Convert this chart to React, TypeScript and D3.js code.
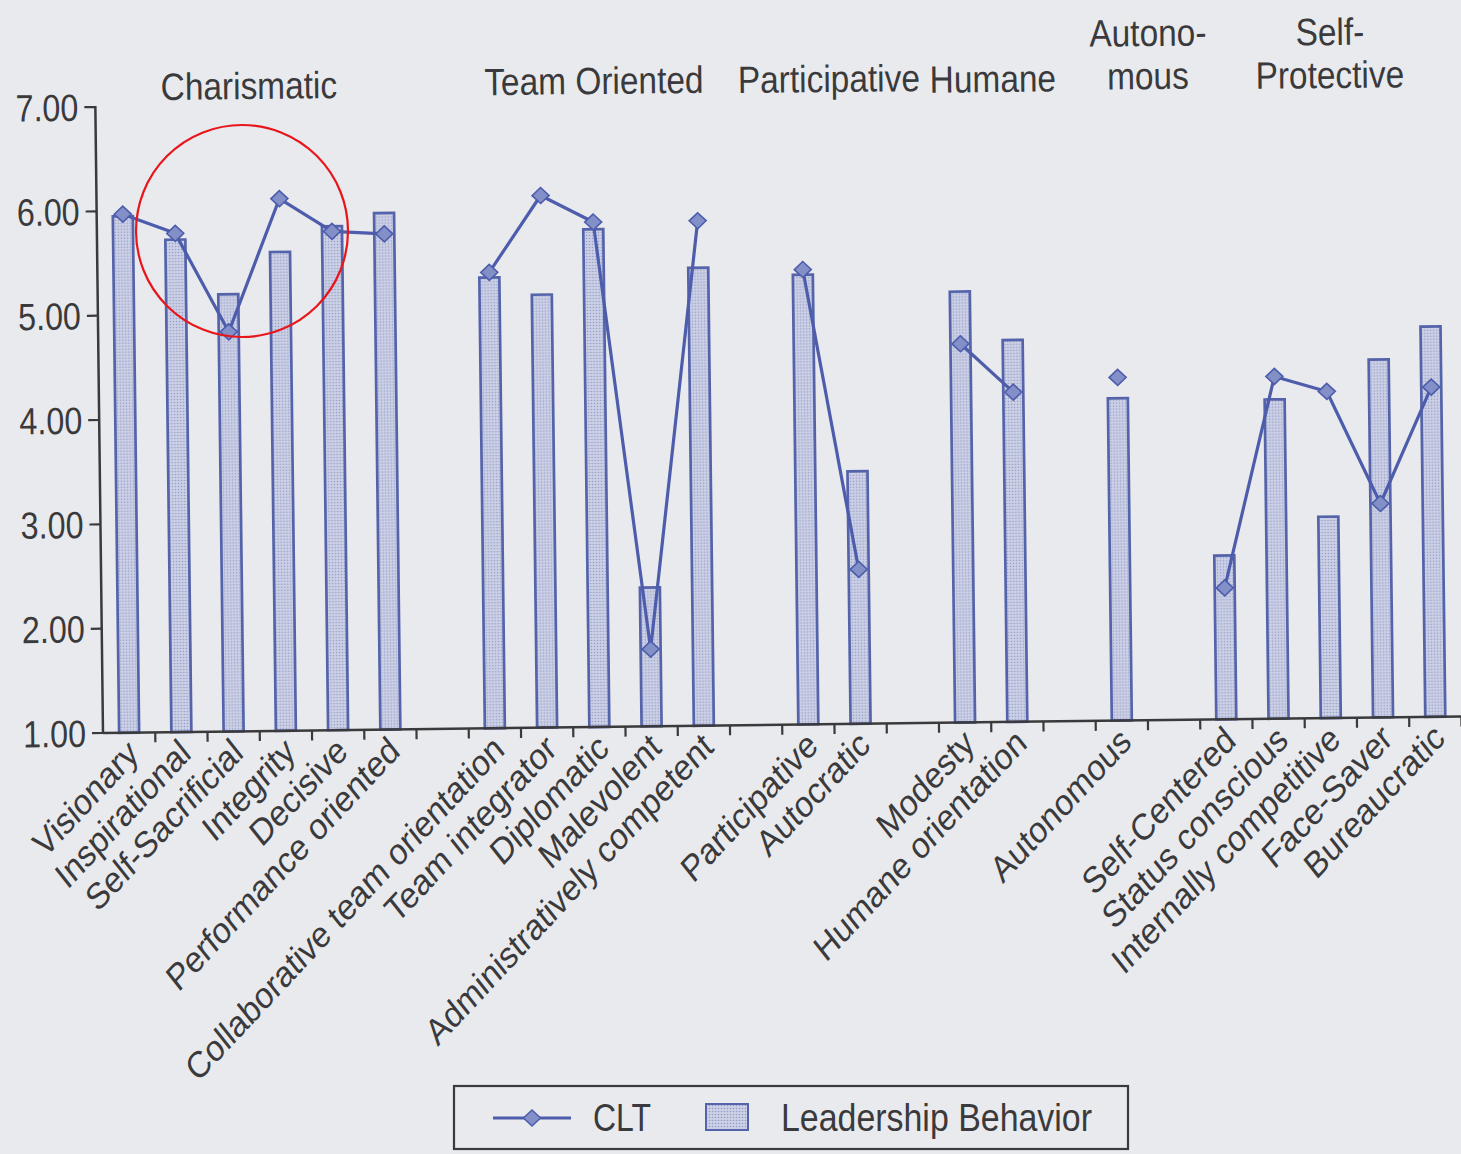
import React from "react";
import * as d3 from "d3";

// ---------- data ----------
const categories = [
  "Visionary", "Inspirational", "Self-Sacrificial", "Integrity", "Decisive", "Performance oriented",
  "Collaborative team orientation", "Team integrator", "Diplomatic", "Malevolent", "Administratively competent",
  "Participative", "Autocratic",
  "Modesty", "Humane orientation",
  "Autonomous",
  "Self-Centered", "Status conscious", "Internally competitive", "Face-Saver", "Bureaucratic",
];
const groupOf = [0, 0, 0, 0, 0, 0, 1, 1, 1, 1, 1, 2, 2, 3, 3, 4, 5, 5, 5, 5, 5];
const groupNames = [["Charismatic"], ["Team Oriented"], ["Participative"], ["Humane"], ["Autono-", "mous"], ["Self-", "Protective"]];
const behavior = [5.95, 5.72, 5.19, 5.59, 5.83, 5.95, 5.32, 5.15, 5.77, 2.33, 5.39, 5.31, 3.42, 5.13, 4.66, 4.09, 2.57, 4.06, 2.93, 4.43, 4.74];
const clt = [5.97, 5.78, 4.83, 6.1, 5.78, 5.75, 5.37, 6.1, 5.84, 1.74, 5.84, 5.36, 2.48, 4.63, 4.16, 4.29, 2.26, 4.28, 4.13, 3.05, 4.16];
const yTicks = [1, 2, 3, 4, 5, 6, 7];
const seriesNames = ["CLT", "Leadership Behavior"];

// ---------- layout / style ----------
const W = 1461, H = 1154;
const X0 = 103, BASE = 733, TOP = 107, SLOT = 52.25, NSLOTS = 26;
const TILT = -0.7;
const headerPos = [
  { x: 249, y: [99] },
  { x: 594, y: [94] },
  { x: 829, y: [92] },
  { x: 993, y: [92] },
  { x: 1148, y: [46, 89] },
  { x: 1330, y: [45, 88] },
];
const INK = "#3a3a3c";
const BAR_STROKE = "#5564aa";
const LINE = "#4d5dac";
const DIAMOND = "#8390c8";
const BG = "#e9eaee";
const FONT = "'Liberation Sans', Arial, Helvetica, sans-serif";

export default function App() {
  const slots = categories.map((_, i) => i + groupOf[i]);
  const x = d3.scaleBand<number>().domain(d3.range(NSLOTS)).range([X0, X0 + NSLOTS * SLOT]).paddingInner(0).paddingOuter(0);
  const y = d3.scaleLinear().domain([1, 7]).range([BASE, TOP]);
  const cx = (i: number) => (x(slots[i]) as number) + x.bandwidth() / 2;
  const line = d3.line<number>().x((i) => cx(i)).y((i) => y(clt[i]));
  const groups = d3.range(groupNames.length).map((g) => categories.map((_, i) => i).filter((i) => groupOf[i] === g));
  const diamond = "M0,-8L8.5,0L0,8L-8.5,0Z";
  const barW = 20;

  return (
    <svg width={W} height={H} style={{ position: "absolute", left: 0, top: 0, display: "block" }} fontFamily={FONT}>
      <defs>
        <pattern id="dots" width="3" height="3" patternUnits="userSpaceOnUse">
          <rect width="3" height="3" fill="#cdd1e6" />
          <circle cx="1.5" cy="1.5" r="0.8" fill="#939cc8" />
        </pattern>
      </defs>
      <rect width={W} height={H} fill={BG} />

      {/* group headers */}
      {groupNames.map((lines, g) =>
        lines.map((t, k) => (
          <text key={`h${g}-${k}`} transform={`translate(${headerPos[g].x},${headerPos[g].y[k]}) rotate(-0.6) scale(0.88,1)`}
            textAnchor="middle" fontSize={38} fill={INK}>{t}</text>
        ))
      )}

      <g transform={`rotate(${TILT},${X0},${BASE})`}>
        {/* bars */}
        {behavior.map((v, i) => (
          <rect key={`b${i}`} x={cx(i) - barW / 2} y={y(v)} width={barW} height={BASE - y(v)}
            fill="url(#dots)" stroke={BAR_STROKE} strokeWidth={2.7} />
        ))}
        {/* CLT lines */}
        {groups.map((idx, g) => idx.length > 1 ? (
          <path key={`l${g}`} d={line(idx) as string} fill="none" stroke={LINE} strokeWidth={3.2} strokeLinejoin="round" />
        ) : null)}
        {clt.map((v, i) => (
          <path key={`d${i}`} d={diamond} transform={`translate(${cx(i)},${y(v)})`} fill={DIAMOND} stroke={LINE} strokeWidth={1.6} />
        ))}

        {/* y axis */}
        <line x1={X0} x2={X0} y1={TOP - 1} y2={BASE} stroke={INK} strokeWidth={2.5} />
        {yTicks.map((t) => (
          <g key={`yt${t}`}>
            <line x1={X0 - 11} x2={X0} y1={y(t)} y2={y(t)} stroke={INK} strokeWidth={2.2} />
            <text transform={`translate(${X0 - 17},${y(t) + 13.5}) scale(0.85,1)`} textAnchor="end" fontSize={38} fill={INK}>
              {t.toFixed(2)}
            </text>
          </g>
        ))}

        {/* x axis */}
        <line x1={X0} x2={X0 + NSLOTS * SLOT + 4} y1={BASE} y2={BASE} stroke={INK} strokeWidth={2.5} />
        {d3.range(1, NSLOTS + 1).map((k) => (
          <line key={`xt${k}`} x1={X0 + k * SLOT} x2={X0 + k * SLOT} y1={BASE} y2={BASE + 10} stroke={INK} strokeWidth={2.2} />
        ))}
        {categories.map((c, i) => (
          <text key={`xl${i}`} transform={`translate(${cx(i) + 11},${BASE + 24}) scale(0.86,1) rotate(-42)`}
            textAnchor="end" fontSize={36.8} fill={INK}>{c}</text>
        ))}
      </g>

      {/* annotation circle */}
      <circle cx={242} cy={231} r={106} fill="none" stroke="#e8161b" strokeWidth={2.2} />

      {/* legend */}
      <g>
        <rect x={454} y={1086} width={674} height={63} fill="none" stroke={INK} strokeWidth={2.2} />
        <line x1={493} x2={571} y1={1118} y2={1118} stroke={LINE} strokeWidth={3} />
        <path d={diamond} transform="translate(532,1118)" fill={DIAMOND} stroke={LINE} strokeWidth={1.5} />
        <text x={593} y={1131} fontSize={38} fill={INK} textLength={58} lengthAdjust="spacingAndGlyphs">{seriesNames[0]}</text>
        <rect x={706} y={1104} width={42} height={26} fill="url(#dots)" stroke={BAR_STROKE} strokeWidth={2} />
        <text x={781} y={1131} fontSize={38} fill={INK} textLength={311} lengthAdjust="spacingAndGlyphs">{seriesNames[1]}</text>
      </g>
    </svg>
  );
}
